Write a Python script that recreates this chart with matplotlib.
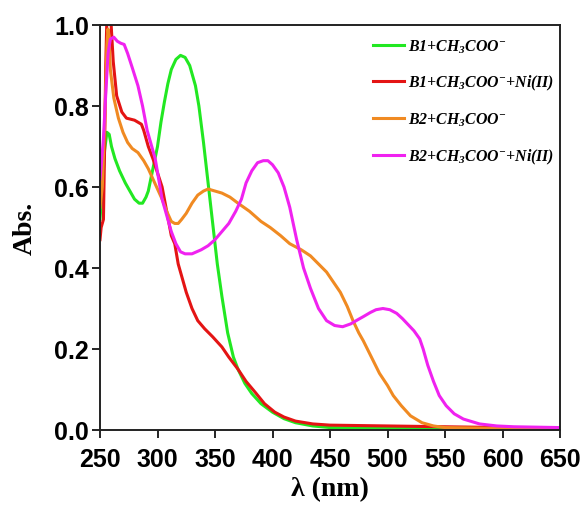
import matplotlib
matplotlib.use("Agg")
import matplotlib.pyplot as plt

# B1 + CH3COO-
wl_g = [250, 252, 254, 256, 258, 260, 263, 267, 272, 276, 280, 284, 287, 290, 292, 296,
        300, 303, 306, 309, 312, 316, 320, 324, 328, 333, 336, 340, 344, 348, 352, 356,
        361, 366, 370, 376, 382, 390, 400, 410, 420, 435, 450, 500, 650]
ab_g = [0.52, 0.60, 0.69, 0.735, 0.73, 0.70, 0.67, 0.64, 0.61, 0.59, 0.57, 0.56, 0.56, 0.575, 0.59, 0.645,
        0.70, 0.76, 0.81, 0.855, 0.89, 0.915, 0.925, 0.92, 0.90, 0.85, 0.80, 0.71, 0.61, 0.51, 0.41, 0.33,
        0.24, 0.18, 0.15, 0.115, 0.09, 0.065, 0.044, 0.028, 0.018, 0.01, 0.006, 0.004, 0.003]

# B1 + CH3COO- + Ni(II)
wl_r = [250, 251, 253, 254, 255, 256, 258, 259.5, 261.5, 264.5, 269, 273, 280, 286, 288, 292,
        296, 300, 304, 308, 312, 315, 318, 321, 325, 330, 335, 341, 348, 356, 362, 370,
        377, 385, 393, 402, 410, 420, 435, 450, 500, 550, 600, 650]
ab_r = [0.47, 0.50, 0.52, 0.70, 0.90, 1.02, 1.06, 1.01, 0.91, 0.825, 0.785, 0.77, 0.765, 0.755, 0.74, 0.70,
        0.67, 0.635, 0.60, 0.54, 0.48, 0.46, 0.41, 0.38, 0.34, 0.30, 0.27, 0.25, 0.23, 0.205, 0.18, 0.15,
        0.12, 0.093, 0.065, 0.044, 0.032, 0.022, 0.015, 0.012, 0.01, 0.008, 0.006, 0.005]

# B2 + CH3COO-
wl_o = [250, 252, 254, 256, 257, 258, 259, 262, 266, 270, 274, 278, 283, 288, 292, 296,
        300, 304, 308, 312, 315, 318, 321, 325, 330, 335, 340, 344, 350, 356, 363, 370,
        380, 390, 398, 407, 415, 425, 433, 440, 447, 453, 459, 465, 470, 475, 479, 486,
        493, 500, 505, 512, 520, 530, 540, 550, 600, 650]
ab_o = [0.55, 0.60, 0.75, 0.95, 0.99, 0.96, 0.89, 0.82, 0.77, 0.735, 0.71, 0.695, 0.685, 0.665, 0.645, 0.62,
        0.595, 0.57, 0.54, 0.515, 0.51, 0.51, 0.52, 0.535, 0.56, 0.58, 0.59, 0.595, 0.59, 0.585, 0.575, 0.56,
        0.54, 0.515, 0.50, 0.48, 0.46, 0.445, 0.43, 0.41, 0.39, 0.365, 0.34, 0.305, 0.27, 0.24, 0.22, 0.18,
        0.14, 0.11, 0.085, 0.06, 0.035, 0.018, 0.01, 0.006, 0.004, 0.003]

# B2 + CH3COO- + Ni(II)
wl_m = [250, 251, 253, 255, 257, 259, 262, 265, 268, 271, 274, 278, 283, 287, 291, 295,
        298, 301, 304, 308, 312, 316, 320, 324, 330, 338, 344, 350, 356, 362, 368, 373,
        377, 382, 387, 392, 396, 400, 405, 410, 415, 421, 427, 433, 440, 447, 454, 461,
        468, 474, 479, 485, 490, 496, 502, 508, 513, 518, 523, 528, 531, 535, 540, 545,
        551, 558, 566, 580, 595, 610, 630, 650]
ab_m = [0.62, 0.65, 0.72, 0.83, 0.93, 0.965, 0.97, 0.96, 0.955, 0.952, 0.93, 0.895, 0.85, 0.80, 0.74, 0.70,
        0.67, 0.62, 0.57, 0.53, 0.49, 0.46, 0.44, 0.435, 0.435, 0.445, 0.455, 0.47, 0.49, 0.51, 0.54, 0.57,
        0.61, 0.64, 0.66, 0.665, 0.665, 0.655, 0.635, 0.60, 0.55, 0.47, 0.40, 0.35, 0.30, 0.27, 0.258, 0.255,
        0.262, 0.272, 0.28, 0.29, 0.297, 0.30, 0.297, 0.288, 0.275, 0.26, 0.245, 0.225, 0.20, 0.16, 0.12, 0.085,
        0.06, 0.04, 0.027, 0.015, 0.01, 0.008, 0.007, 0.006]

labels = [r'B1+CH$_3$COO$^{-}$',
          r'B1+CH$_3$COO$^{-}$+Ni(II)',
          r'B2+CH$_3$COO$^{-}$',
          r'B2+CH$_3$COO$^{-}$+Ni(II)']
colors = ['#22e822', '#e41414', '#f08a22', '#f022f0']

plt.rcParams['mathtext.fontset'] = 'custom'
plt.rcParams['mathtext.rm'] = 'Liberation Serif:italic:bold'
plt.rcParams['mathtext.it'] = 'Liberation Serif:italic:bold'
plt.rcParams['mathtext.bf'] = 'Liberation Serif:italic:bold'

fig = plt.figure(figsize=(5.86, 5.06), dpi=100)
ax = fig.add_axes([100 / 586, 75 / 506, 460 / 586, 405 / 506])

series = [(wl_g, ab_g), (wl_r, ab_r), (wl_o, ab_o), (wl_m, ab_m)]
for (wl, ab), c, lab in zip(series, colors, labels):
    ax.plot(wl, ab, color=c, lw=2.2, label=lab)

ax.set_xlim(250, 650)
ax.set_ylim(0, 1.0)
ax.set_xticks(range(250, 651, 50))
ax.set_yticks([0.0, 0.2, 0.4, 0.6, 0.8, 1.0])
ax.set_yticklabels(['0.0', '0.2', '0.4', '0.6', '0.8', '1.0'])

for s in ax.spines.values():
    s.set_linewidth(1.4)
    s.set_color('#222222')

ax.tick_params(direction='out', length=6, width=1.2, labelsize=18)
ax.tick_params(axis='x', pad=6)
ax.tick_params(axis='y', pad=2)
for t in ax.get_xticklabels() + ax.get_yticklabels():
    t.set_fontfamily('Liberation Sans')
    t.set_fontweight('bold')

ax.set_xlabel('λ (nm)', fontfamily='Liberation Serif', fontweight='bold', fontsize=20, labelpad=4)
ax.set_ylabel('Abs.', fontfamily='Liberation Serif', fontweight='bold', fontsize=20, labelpad=12)

leg = ax.legend(loc='upper left', bbox_to_anchor=(0.593, 0.97), frameon=False,
                borderaxespad=0, borderpad=0, handlelength=2.0, handletextpad=0.2,
                labelspacing=1.17,
                prop={'family': 'Liberation Serif', 'weight': 'bold', 'style': 'italic', 'size': 11.4})

fig.savefig('out.png', dpi=100)
